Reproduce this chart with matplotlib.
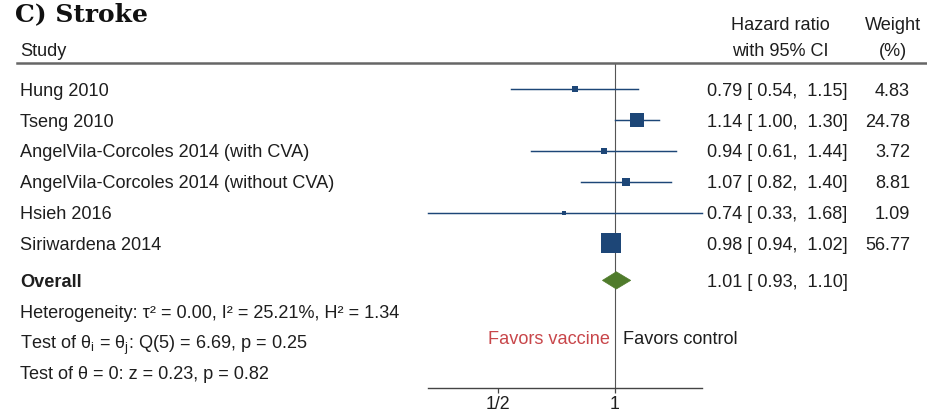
import numpy as np
import matplotlib
matplotlib.use("Agg")
import matplotlib.pyplot as plt
import matplotlib.transforms as mtransforms
from matplotlib.lines import Line2D
from matplotlib.patches import Polygon

plt.rcParams['font.family'] = ['Liberation Sans', 'DejaVu Sans']
plt.rcParams['mathtext.fontset'] = 'custom'
plt.rcParams['mathtext.rm'] = 'Liberation Sans'

# ---- data ----
studies = ["Hung 2010", "Tseng 2010", "AngelVila-Corcoles 2014 (with CVA)",
           "AngelVila-Corcoles 2014 (without CVA)", "Hsieh 2016", "Siriwardena 2014"]
hr = [0.79, 1.14, 0.94, 1.07, 0.74, 0.98]
lo = [0.54, 1.00, 0.61, 0.82, 0.33, 0.94]
hi = [1.15, 1.30, 1.44, 1.40, 1.68, 1.02]
weights = [4.83, 24.78, 3.72, 8.81, 1.09, 56.77]
overall = (1.01, 0.93, 1.10)
tick_vals = [0.5, 1]
tick_labels = ["1/2", "1"]
het_lines = ["Heterogeneity: τ² = 0.00, I² = 25.21%, H² = 1.34",
             r"Test of θ$_\mathregular{i}$ = θ$_\mathregular{j}$: Q(5) = 6.69, p = 0.25",
             "Test of θ = 0: z = 0.23, p = 0.82"]

W, H = 927, 412
fig = plt.figure(figsize=(W / 100, H / 100), dpi=100)

def fx(x):
    return x / W

def fy(y):
    return 1 - y / H

navy = '#1d4677'
green = '#4f7b2b'
txt = '#1e1e1e'
fs = 13.1

# forest axes
ax_l, ax_r, ax_t, ax_b = 428, 702, 63, 388
ax = fig.add_axes([fx(ax_l), fy(ax_b), (ax_r - ax_l) / W, (ax_b - ax_t) / H])
ax.set_xscale('log')
ax.set_xlim(0.33, 1.68)
ax.set_ylim(9.69, -0.85)
for s in ['top', 'right', 'left']:
    ax.spines[s].set_visible(False)
ax.spines['bottom'].set_color('#444444')
ax.spines['bottom'].set_linewidth(1.0)
ax.set_yticks([])
ax.xaxis.set_minor_locator(matplotlib.ticker.NullLocator())
ax.set_xticks(tick_vals)
ax.set_xticklabels(tick_labels, fontsize=12.8, color=txt)
ax.tick_params(axis='x', length=3.5, width=0.9, color='#444444', pad=2.5)
ax.patch.set_alpha(0)

ax.axvline(1, color='#555555', lw=0.8, zorder=1)

rows = np.arange(len(studies))
k = 14.6 / np.sqrt(max(weights))
for i, (h, l, u, w) in enumerate(zip(hr, lo, hi, weights)):
    ax.plot([l, u], [rows[i], rows[i]], color=navy, lw=1.05, zorder=2, clip_on=False)
    ax.plot([h], [rows[i]], marker='s', color=navy, markersize=max(k * np.sqrt(w), 2.6),
            markeredgewidth=0, zorder=3, clip_on=False)

oy = 6.2
dh = 0.28
diamond = Polygon([[overall[1], oy], [overall[0], oy - dh], [overall[2], oy], [overall[0], oy + dh]],
                  closed=True, facecolor=green, edgecolor=green, lw=0.5, zorder=3)
ax.add_patch(diamond)

# blended transform: figure x, data y
bt = mtransforms.blended_transform_factory(fig.transFigure, ax.transData)

for i, name in enumerate(studies):
    fig.text(fx(20), rows[i], name, transform=bt, va='center_baseline', ha='left',
             fontsize=fs, color=txt)
    fig.text(fx(707), rows[i], f"{hr[i]:.2f} [ {lo[i]:.2f},  {hi[i]:.2f}]", transform=bt,
             va='center_baseline', ha='left', fontsize=fs, color=txt)
    fig.text(fx(910), rows[i], f"{weights[i]:.2f}", transform=bt,
             va='center_baseline', ha='right', fontsize=fs, color=txt)

fig.text(fx(20), oy, "Overall", transform=bt, va='center_baseline', ha='left',
         fontsize=fs, color=txt, fontweight='bold')
fig.text(fx(707), oy, f"{overall[0]:.2f} [ {overall[1]:.2f},  {overall[2]:.2f}]", transform=bt,
         va='center_baseline', ha='left', fontsize=fs, color=txt)

for j, line in enumerate(het_lines):
    fig.text(fx(20), oy + 1.0 + j * 0.99, line, transform=bt, va='center_baseline', ha='left',
             fontsize=fs, color=txt)

# favors labels
fav_y = 8.05
ax.annotate("Favors vaccine", xy=(1, fav_y), xytext=(-5, 0), textcoords='offset pixels',
            ha='right', va='center_baseline', fontsize=fs, color='#c8464a', annotation_clip=False)
ax.annotate("Favors control", xy=(1, fav_y), xytext=(8, 0), textcoords='offset pixels',
            ha='left', va='center_baseline', fontsize=fs, color=txt, annotation_clip=False)

# headers
fig.text(fx(15), fy(21), "C) Stroke", family=['DejaVu Serif'], fontweight='bold',
         fontsize=18, va='baseline', ha='left', color='#111111')
fig.text(fx(20), fy(56), "Study", fontsize=fs, va='baseline', ha='left', color=txt)
fig.text(fx(780), fy(30), "Hazard ratio", fontsize=fs, va='baseline', ha='center', color=txt)
fig.text(fx(780), fy(56), "with 95% CI", fontsize=fs, va='baseline', ha='center', color=txt)
fig.text(fx(893), fy(30), "Weight", fontsize=fs, va='baseline', ha='center', color=txt)
fig.text(fx(893), fy(56), "(%)", fontsize=fs, va='baseline', ha='center', color=txt)

fig.add_artist(Line2D([fx(17), fx(927)], [fy(63), fy(63)], color='#666666', lw=1.8,
                      transform=fig.transFigure))

fig.savefig("out.png", dpi=100, facecolor='white')
